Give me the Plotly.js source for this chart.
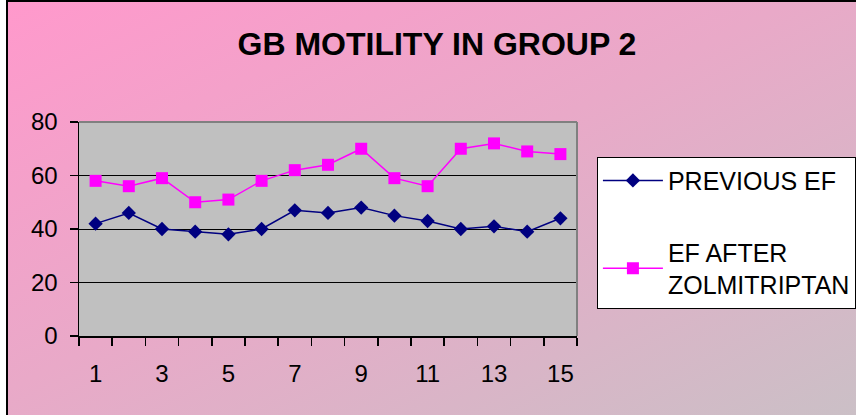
<!DOCTYPE html>
<html>
<head>
<meta charset="utf-8">
<script src="https://cdn.plot.ly/plotly-3.0.1.min.js"></script>
<style>
  html, body { margin: 0; padding: 0; background: #ffffff; width: 856px; height: 415px; overflow: hidden; }
  #bg { position: absolute; left: 6px; top: 0px; width: 870px; height: 430px;
        border-left: 2px solid #000; border-top: 2px solid #000;
        background: linear-gradient(to bottom right, #FF99CC 0%, #E9A9C8 45%, #C9C1C6 100%); }
  #chart { position: absolute; left: 0; top: 0; width: 856px; height: 415px; }
</style>
</head>
<body>
<div id="bg"></div>
<div id="chart"></div>
<script>
const categories = ["1","2","3","4","5","6","7","8","9","10","11","12","13","14","15"];
const previousEF = [42, 46, 40, 39, 38, 40, 47, 46, 48, 45, 43, 40, 41, 39, 44];
const efAfterZolmitriptan = [58, 56, 59, 50, 51, 58, 62, 64, 70, 59, 56, 70, 72, 69, 68];
const xTickLabels = ["1","3","5","7","9","11","13","15"];
const yTicks = [0, 20, 40, 60, 80];

const xs = categories.map(Number);
const boundaries = [];
for (let i = 0; i <= categories.length; i++) boundaries.push(i + 0.5);

const FONT = "Liberation Sans, Arial, sans-serif";

const traces = [
  {
    x: xs, y: previousEF, name: "PREVIOUS EF", type: "scatter", mode: "lines+markers",
    line: { color: "#000080", width: 1.5 },
    marker: { symbol: "diamond", size: 11, color: "#000080" },
    legendgroup: "a"
  },
  {
    x: xs, y: efAfterZolmitriptan, name: "EF AFTER<br>ZOLMITRIPTAN", type: "scatter", mode: "lines+markers",
    line: { color: "#FF00FF", width: 1.5 },
    marker: { symbol: "square", size: 12, color: "#FF00FF" },
    legendgroup: "b"
  },
  {
    x: xTickLabels.map(Number), y: xTickLabels.map(() => 0), xaxis: "x2", yaxis: "y",
    mode: "markers", marker: { opacity: 0 }, showlegend: false, hoverinfo: "skip"
  }
];

const layout = {
  width: 856, height: 415,
  paper_bgcolor: "rgba(0,0,0,0)",
  plot_bgcolor: "#C0C0C0",
  margin: { l: 79, r: 279, t: 122, b: 79, autoexpand: false },
  font: { family: FONT, color: "#000", size: 24 },
  title: {
    text: "<b>GB MOTILITY IN GROUP 2</b>",
    font: { family: FONT, size: 32, color: "#000" },
    xref: "container", x: 0.5105, xanchor: "center",
    yref: "container", y: 0.895, yanchor: "middle"
  },
  xaxis: {
    range: [0.5, 15.5], tickmode: "array", tickvals: boundaries,
    ticktext: boundaries.map(() => ""),
    ticks: "outside", ticklen: 8, tickcolor: "#000", tickwidth: 1.5,
    showline: true, linecolor: "#000", linewidth: 1.5,
    showgrid: false, zeroline: false, fixedrange: true
  },
  xaxis2: {
    overlaying: "x", side: "bottom", range: [0.5, 15.5], tickmode: "array",
    tickvals: xTickLabels.map(Number), ticktext: xTickLabels,
    ticks: "", showline: false, showgrid: false, zeroline: false,
    tickfont: { family: FONT, size: 24, color: "#000" },
    ticklabelstandoff: 21
  },
  yaxis: {
    range: [0, 80], tickmode: "array", tickvals: yTicks,
    ticks: "outside", ticklen: 8, tickcolor: "#000", tickwidth: 1.5,
    showline: true, linecolor: "#000", linewidth: 1.5,
    showgrid: true, gridcolor: "#000", gridwidth: 1,
    zeroline: false, tickfont: { family: FONT, size: 24, color: "#000" },
    ticklabelstandoff: 7
  },
  shapes: [
    { type: "line", xref: "paper", yref: "paper", x0: 0, x1: 1, y0: 1, y1: 1,
      line: { color: "#808080", width: 2 }, layer: "above" },
    { type: "line", xref: "paper", yref: "paper", x0: 1, x1: 1, y0: 0, y1: 1,
      line: { color: "#808080", width: 2 }, layer: "above" }
  ],
  showlegend: true,
  legend: {
    x: 1.04, xanchor: "left", y: 0.838, yanchor: "top",
    bgcolor: "#FFFFFF", bordercolor: "#000", borderwidth: 1,
    font: { family: FONT, size: 25, color: "#000" },
    traceorder: "grouped", tracegroupgap: 36, itemwidth: 60
  }
};

Plotly.newPlot("chart", traces, layout, { displayModeBar: false, staticPlot: true });
</script>
</body>
</html>
